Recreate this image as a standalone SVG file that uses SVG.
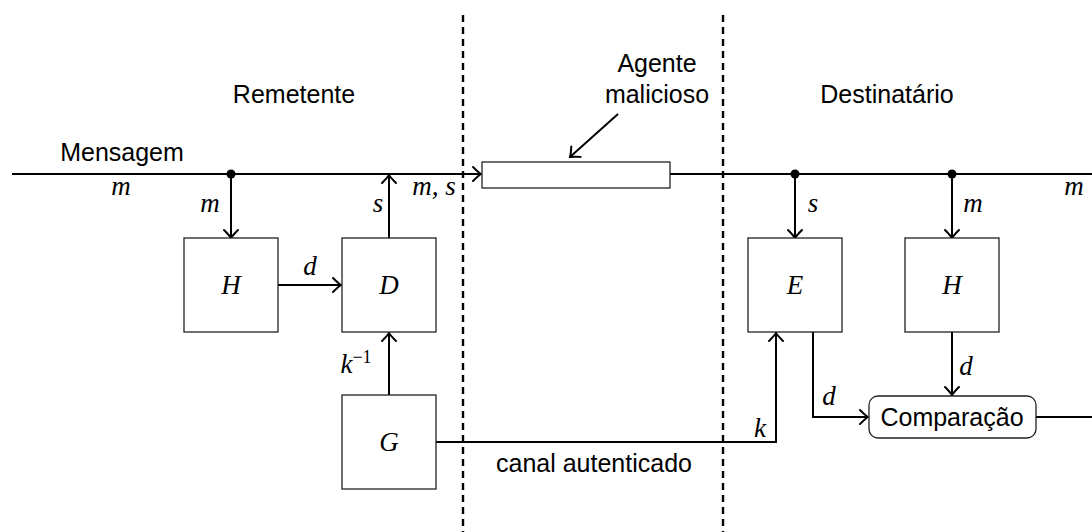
<svg xmlns="http://www.w3.org/2000/svg" width="1092" height="532" viewBox="0 0 1092 532">
<style>
.box{fill:#fff;stroke:#222;stroke-width:1.3}
.ln{fill:none;stroke:#000;stroke-width:2}
.dash{fill:none;stroke:#000;stroke-width:2.4;stroke-dasharray:7 5}
.t{font-family:"Liberation Sans",Arial,sans-serif;font-size:25px;fill:#000}
.m{font-family:"Liberation Serif","Times New Roman",serif;font-style:italic;font-size:27px;fill:#000}
</style>
<defs>
<marker id="arr" markerUnits="userSpaceOnUse" markerWidth="20" markerHeight="20" refX="0" refY="0" viewBox="-10 -10 20 20" orient="auto" overflow="visible">
<path d="M -8 -7 Q -2.5 -1.5 0 0 Q -2.5 1.5 -8 7" fill="none" stroke="#000" stroke-width="2" stroke-linecap="round"/>
</marker>
</defs>
<g id="separators">
<line class="dash" x1="463" y1="15" x2="463" y2="532"/>
<line class="dash" x1="723" y1="15" x2="723" y2="532"/>
</g>
<g id="headings">
<text class="t" x="294" y="103" text-anchor="middle">Remetente</text>
<text class="t" x="887" y="103" text-anchor="middle">Destinatário</text>
<text class="t" x="122" y="161" text-anchor="middle">Mensagem</text>
<text class="t" x="657" y="72" text-anchor="middle">Agente</text>
<text class="t" x="657" y="103" text-anchor="middle">malicioso</text>
<text class="t" x="594" y="472" text-anchor="middle">canal autenticado</text>
</g>
<g id="connectors">
<line class="ln" x1="12" y1="174" x2="481" y2="174" marker-end="url(#arr)"/>
<line class="ln" x1="670" y1="174" x2="1092" y2="174"/>
<line class="ln" x1="618" y1="114" x2="570" y2="157" marker-end="url(#arr)"/>
<line class="ln" x1="231" y1="174" x2="231" y2="238" marker-end="url(#arr)"/>
<line class="ln" x1="389" y1="238" x2="389" y2="175" marker-end="url(#arr)"/>
<line class="ln" x1="278" y1="285" x2="341" y2="285" marker-end="url(#arr)"/>
<line class="ln" x1="389" y1="395" x2="389" y2="333" marker-end="url(#arr)"/>
<polyline class="ln" points="436,442 776,442 776,333" marker-end="url(#arr)"/>
<line class="ln" x1="795" y1="174" x2="795" y2="238" marker-end="url(#arr)"/>
<line class="ln" x1="952" y1="174" x2="952" y2="238" marker-end="url(#arr)"/>
<polyline class="ln" points="813,332 813,417 868,417" marker-end="url(#arr)"/>
<line class="ln" x1="952" y1="332" x2="952" y2="395" marker-end="url(#arr)"/>
<line class="ln" x1="1036" y1="417" x2="1092" y2="417"/>
<circle cx="231" cy="174" r="4.5" fill="#000"/>
<circle cx="795" cy="174" r="4.5" fill="#000"/>
<circle cx="952" cy="174" r="4.5" fill="#000"/>
</g>
<g id="labels">
<text class="m" x="121" y="195" text-anchor="middle">m</text>
<text class="m" x="210" y="212" text-anchor="middle">m</text>
<text class="m" x="378" y="212" text-anchor="middle">s</text>
<text class="m" x="434" y="195" text-anchor="middle">m, s</text>
<text class="m" x="310" y="275" text-anchor="middle">d</text>
<text class="m" x="356" y="373" text-anchor="middle">k<tspan font-size="18" dy="-10" font-style="normal">−1</tspan></text>
<text class="m" x="760" y="437" text-anchor="middle">k</text>
<text class="m" x="813" y="212" text-anchor="middle">s</text>
<text class="m" x="973" y="212" text-anchor="middle">m</text>
<text class="m" x="1074" y="195" text-anchor="middle">m</text>
<text class="m" x="829" y="405" text-anchor="middle">d</text>
<text class="m" x="966" y="375" text-anchor="middle">d</text>
</g>
<g id="agente">
<rect class="box" x="482" y="162" width="188" height="26"/>
</g>
<g id="H1">
<rect class="box" x="184" y="238" width="94" height="94"/>
<text class="m" x="231" y="294" text-anchor="middle">H</text>
</g>
<g id="D">
<rect class="box" x="342" y="238" width="94" height="94"/>
<text class="m" x="389" y="294" text-anchor="middle">D</text>
</g>
<g id="G">
<rect class="box" x="342" y="395" width="94" height="94"/>
<text class="m" x="389" y="451" text-anchor="middle">G</text>
</g>
<g id="E">
<rect class="box" x="748" y="238" width="94" height="94"/>
<text class="m" x="795" y="294" text-anchor="middle">E</text>
</g>
<g id="H2">
<rect class="box" x="905" y="238" width="94" height="94"/>
<text class="m" x="952" y="294" text-anchor="middle">H</text>
</g>
<g id="Comparacao">
<rect class="box" x="869" y="396" width="167" height="42" rx="9"/>
<text class="t" x="952" y="426" text-anchor="middle">Comparação</text>
</g>
</svg>
